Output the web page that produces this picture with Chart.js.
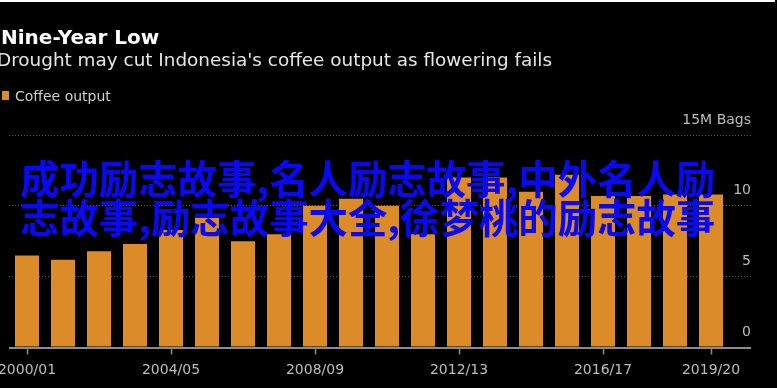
<!DOCTYPE html>
<html>
<head>
<meta charset="utf-8">
<script src="https://cdn.jsdelivr.net/npm/chart.js@4.4.1/dist/chart.umd.min.js"></script>
<style>
  html, body { margin: 0; padding: 0; background: #000; }
  #page { position: relative; width: 777px; height: 388px; overflow: hidden; background: #000; font-family: 'DejaVu Sans', sans-serif; }
  #coffeeChart { position: absolute; left: 0; top: 0; }
  #topRule { position: absolute; left: 0; top: 0; width: 775px; height: 2px; background: #fff; }
  #title { position: absolute; left: 1px; top: 27px; font-size: 20px; line-height: 20px; font-weight: bold; color: #fff; white-space: nowrap; }
  #subtitle { position: absolute; left: -3px; top: 51px; font-size: 18.4px; line-height: 18.4px; color: #e6e6e6; white-space: nowrap; }
  #legend { position: absolute; left: 2px; top: 89px; font-size: 14px; line-height: 14px; color: #cfcfcf; white-space: nowrap; }
  #legend .swatch { position: absolute; left: 0; top: 2px; width: 7px; height: 9px; background: #dc8b29; }
  #legend .label { position: absolute; left: 13px; top: 0; }
  #overlay { position: absolute; left: 20px; top: 158px; font-family: 'Noto Sans CJK SC', sans-serif; font-weight: bold; font-size: 39.4px; line-height: 38.5px; color: #0a0af0; white-space: nowrap; }
</style>
</head>
<body>
<div id="page">
  <canvas id="coffeeChart" width="777" height="388"></canvas>
  <div id="topRule"></div>
  <div id="title">Nine-Year Low</div>
  <div id="subtitle">Drought may cut Indonesia's coffee output as flowering fails</div>
  <div id="legend"><span class="swatch"></span><span class="label">Coffee output</span></div>
  <div id="overlay">成功励志故事,名人励志故事,中外名人励<br>志故事,励志故事大全,徐梦桃的励志故事</div>
</div>
<script>
const seasons = [
  '2000/01', '2001/02', '2002/03', '2003/04', '2004/05',
  '2005/06', '2006/07', '2007/08', '2008/09', '2009/10',
  '2010/11', '2011/12', '2012/13', '2013/14', '2014/15',
  '2015/16', '2016/17', '2017/18', '2018/19', '2019/20'
];
// million bags
const coffeeOutput = [
  6.5, 6.2, 6.8, 7.3, 8.3,
  9.2, 7.5, 8.0, 10.0, 10.5,
  10.0, 8.0, 12.0, 12.0, 11.0,
  12.2, 10.7, 10.7, 10.8, 10.8
];
const shownSeasons = ['2000/01', '2004/05', '2008/09', '2012/13', '2016/17', '2019/20'];
const yTicks = [0, 5, 10, 15];
const yTickLabels = ['0', '5', '10', '15M Bags'];

const barColor = '#dc8b29';
const gridColor = '#5a5a5a';
const axisColor = '#8c8c8c';
const labelColor = '#bdbdbd';

document.addEventListener('DOMContentLoaded', () => {
  drawChart();
});

function drawChart() {
  Chart.defaults.font.family = "'DejaVu Sans', sans-serif";
  Chart.defaults.font.size = 14;

  const ctx = document.getElementById('coffeeChart').getContext('2d');

  new Chart(ctx, {
    type: 'bar',
    data: {
      labels: seasons,
      datasets: [{
        label: 'Coffee output',
        data: coffeeOutput,
        backgroundColor: barColor,
        borderWidth: 0,
        barPercentage: 0.667,
        categoryPercentage: 1
      }]
    },
    options: {
      responsive: false,
      animation: false,
      events: [],
      layout: {
        padding: { left: 9, right: 26, top: 135, bottom: 0 }
      },
      plugins: {
        legend: { display: false },
        title: { display: false },
        tooltip: { enabled: false }
      },
      scales: {
        x: {
          offset: true,
          border: { display: false },
          grid: {
            offset: false,
            drawOnChartArea: false,
            drawTicks: true,
            tickLength: 7,
            tickWidth: 1.5,
            tickColor: c => shownSeasons.includes(seasons[c.index]) ? axisColor : 'rgba(0,0,0,0)'
          },
          ticks: {
            autoSkip: false,
            maxRotation: 0,
            padding: 7,
            color: labelColor,
            callback: function(value, index) {
              const s = seasons[index];
              return shownSeasons.includes(s) ? s : '';
            }
          },
          afterFit: scale => {
            scale.height = 40.5;
            scale.paddingLeft = 0;
            scale.paddingRight = 0;
          }
        },
        y: {
          position: 'right',
          min: 0,
          max: 15,
          afterBuildTicks: scale => {
            scale.ticks = yTicks.map(v => ({ value: v }));
          },
          border: {
            display: false,
            dash: c => c.tick && c.tick.value === 0 ? [] : [1, 2]
          },
          grid: {
            color: c => c.tick && c.tick.value === 0 ? axisColor : gridColor,
            lineWidth: c => c.tick && c.tick.value === 0 ? 2 : 1,
            drawTicks: true,
            tickLength: 22,
            tickColor: c => c.tick && c.tick.value === 0 ? axisColor : gridColor,
            tickWidth: c => c.tick && c.tick.value === 0 ? 2 : 1,
            tickBorderDash: c => c.tick && c.tick.value === 0 ? [] : [1, 2]
          },
          ticks: {
            color: labelColor,
            mirror: true,
            padding: 22,
            labelOffset: -15,
            callback: function(value) {
              const i = yTicks.indexOf(value);
              return i >= 0 ? yTickLabels[i] : '';
            }
          },
          afterFit: scale => {
            scale.width = 22;
            scale.paddingTop = 0;
            scale.paddingBottom = 0;
          }
        }
      }
    }
  });
}
</script>
</body>
</html>
